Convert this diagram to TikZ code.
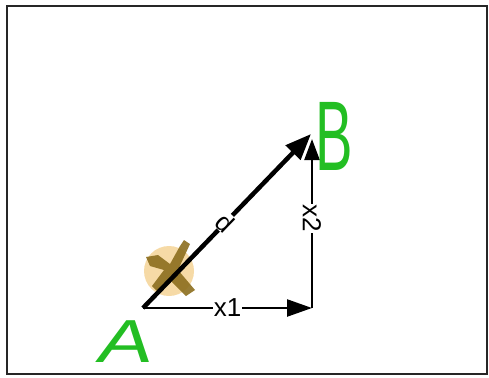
\documentclass[tikz,border=0pt]{standalone}
\usepackage{fontspec}
\setmainfont{Liberation Sans}
\usetikzlibrary{arrows.meta}
\definecolor{hand}{RGB}{35,190,35}
\definecolor{blobfill}{RGB}{245,212,150}
\definecolor{blobdark}{RGB}{140,110,30}
\tikzset{
  vec/.style={line width=2.4pt,-{Triangle[length=25pt,width=17pt]}},
  upvec/.style={line width=2.4pt,-{Triangle[length=21pt,width=15pt]}},
  bigvec/.style={line width=4.5pt,-{Triangle[length=26pt,width=20pt]}},
  lbl/.style={fill=white,inner sep=1pt,font=\fontsize{26}{26}\selectfont},
  letter/.style={text=hand,inner sep=0pt,font=\fontsize{45}{45}\selectfont}
}
\begin{document}
\begin{tikzpicture}[x=1pt,y=-1pt]
\useasboundingbox (0,0) rectangle (489,377);
\draw[line width=2pt,black!85] (7,6) rectangle (487,374);
% icon blob
\fill[blobfill,opacity=0.85] (169,271) circle (25);
\fill[blobdark,opacity=0.9] (146,257) -- (158,255) -- (170,264) -- (180,246) -- (184,240) -- (190,244) -- (178,270) -- (195,290) -- (186,296) -- (170,280) -- (158,292) -- (152,286) -- (164,270) -- (150,266) -- cycle;
% points
\coordinate (O) at (143,308);
\coordinate (C) at (312,308);
\coordinate (T) at (311,134);
\coordinate (V) at (312,139);
\draw[bigvec] (O) -- node[lbl,rotate=-44,pos=0.49,inner sep=0.5pt] (d) {d} (T);
\draw[vec] (O) -- node[lbl,pos=0.5] (x1) {x1} (C);
\draw[upvec] (C) -- node[lbl,rotate=-90,pos=0.53] (x2) {x2} (V);
\node[letter,xscale=1.25,yscale=2.2] (B) at (334,136) {B};
\node[letter,xscale=1.8,yscale=1.35,xslant=0.15] (A) at (127,342) {A};
\end{tikzpicture}
\end{document}
